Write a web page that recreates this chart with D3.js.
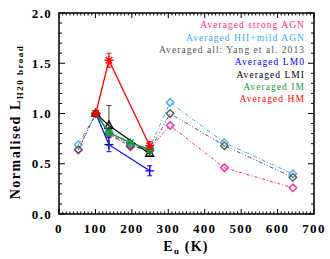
<!DOCTYPE html>
<html><head><meta charset="utf-8">
<script src="https://cdn.jsdelivr.net/npm/d3@7"></script>
<style>
html,body{margin:0;padding:0;background:#fff;}
svg{display:block;}
text{font-family:"Liberation Serif","Times New Roman",serif;}
</style></head>
<body>
<svg id="c" width="330" height="259"></svg>
<script>
// ---- data ----
const eAvg = [53, 101, 137, 196, 249, 305, 454, 642];
const strongAGN = [0.64, 1.00, 0.79, 0.67, 0.65, 0.88, 0.46, 0.26];
const hiiMild   = [0.69, 1.00, 0.82, 0.69, 0.66, 1.11, 0.71, 0.40];
const yangAll   = [0.64, 1.00, 0.80, 0.68, 0.63, 1.00, 0.68, 0.365];

const eLM0 = [101, 137, 249];
const lm0 = [1.00, 0.69, 0.43];
const lm0Err = [0, 0.07, 0.05];

const eLMI = [101, 137, 249];
const lmi = [1.00, 0.88, 0.60];
const lmiErr = [0, 0.20, 0.02];

const eIM = [101, 137, 196, 249];
const im = [1.00, 0.81, 0.71, 0.64];
const imErr = [0, 0.03, 0, 0.03];

const eHM = [101, 137, 249];
const hm = [1.00, 1.53, 0.68];
const hmErr = [0, 0.07, 0.04];

const legendLabels = ["Averaged strong AGN", "Averaged HII+mild AGN", "Averaged all: Yang et al. 2013",
  "Averaged LM0", "Averaged LMI", "Averaged IM", "Averaged HM"];
const legendColors = ["#ff1a8c", "#38aaf5", "#555555", "#0000ff", "#000000", "#1a9a3a", "#ff0000"];

const xTicks = [0, 100, 200, 300, 400, 500, 600, 700];
const yTicks = [0.0, 0.5, 1.0, 1.5, 2.0];

// ---- layout ----
const svg = d3.select("#c");
const L = 59, R = 314, T = 13, B = 214;
const x = d3.scaleLinear().domain([0, 700]).range([L, R]);
const y = d3.scaleLinear().domain([0, 2]).range([B, T]);

const g = svg.append("g");
const tickFont = "bold 13px 'Liberation Serif', serif";

d3.range(0, 701, 10).forEach(v => {
  const major = v % 100 === 0;
  const len = major ? 5 : 2.5;
  g.append("line").attr("x1", x(v)).attr("x2", x(v)).attr("y1", B).attr("y2", B - len).attr("stroke", "#000").attr("stroke-width", 1);
  g.append("line").attr("x1", x(v)).attr("x2", x(v)).attr("y1", T).attr("y2", T + len).attr("stroke", "#000").attr("stroke-width", 1);
});
d3.range(0, 2.001, 0.1).forEach(v => {
  const major = Math.abs(v * 2 - Math.round(v * 2)) < 1e-6;
  const len = major ? 6 : 3;
  g.append("line").attr("x1", L).attr("x2", L + len).attr("y1", y(v)).attr("y2", y(v)).attr("stroke", "#000").attr("stroke-width", 1);
  g.append("line").attr("x1", R).attr("x2", R - len).attr("y1", y(v)).attr("y2", y(v)).attr("stroke", "#000").attr("stroke-width", 1);
});
g.append("rect").attr("x", L).attr("y", T).attr("width", R - L).attr("height", B - T)
  .attr("fill", "none").attr("stroke", "#000").attr("stroke-width", 1.5);

xTicks.forEach(v => {
  g.append("text").attr("x", x(v)).attr("y", 233).attr("text-anchor", "middle")
    .style("font", tickFont).style("letter-spacing", "1.3px").text(v);
});
yTicks.forEach(v => {
  g.append("text").attr("x", 52).attr("y", y(v) + 4.5).attr("text-anchor", "end")
    .style("font", tickFont).style("letter-spacing", "1.3px").text(v.toFixed(1));
});

const xt = svg.append("text").attr("x", 186).attr("y", 251).attr("text-anchor", "middle")
  .style("font", "bold 14px 'Liberation Serif', serif").style("letter-spacing", "1.2px");
xt.append("tspan").text("E");
xt.append("tspan").attr("dy", 3).style("font-size", "9px").text("u");
xt.append("tspan").attr("dy", -3).text(" (K)");

const yt = svg.append("text").attr("transform", "translate(20,122) rotate(-90)").attr("text-anchor", "middle")
  .style("font", "bold 14px 'Liberation Serif', serif").style("letter-spacing", "1.5px");
yt.append("tspan").text("Normalised L");
yt.append("tspan").attr("dy", 3).style("font-size", "9px").text("H20 broad");

// ---- marks ----
const line = d3.line().x(d => x(d[0])).y(d => y(d[1]));
const plot = svg.append("g");

function diamond(px, py, r) { return `M${px},${py - r}L${px + r},${py}L${px},${py + r}L${px - r},${py}Z`; }
function star(px, py, r) {
  const a = r * 0.72;
  return `M${px - r},${py}L${px + r},${py}M${px},${py - r}L${px},${py + r}M${px - a},${py - a}L${px + a},${py + a}M${px - a},${py + a}L${px + a},${py - a}`;
}
function plus(px, py, r) { return `M${px - r},${py}L${px + r},${py}M${px},${py - r}L${px},${py + r}`; }
function tri(px, py, r) { return `M${px},${py - r}L${px + r * 0.9},${py + r * 0.6}L${px - r * 0.9},${py + r * 0.6}Z`; }

function series(es, vs, color, dash, width, markerFn, r, errs) {
  const pts = es.map((e, i) => [e, vs[i]]);
  plot.append("path").datum(pts).attr("d", line).attr("fill", "none")
    .attr("stroke", color).attr("stroke-width", width).attr("stroke-dasharray", dash || null);
  if (errs) {
    pts.forEach((p, i) => {
      if (!errs[i]) return;
      const px = x(p[0]);
      plot.append("path").attr("d", `M${px},${y(p[1] - errs[i])}L${px},${y(p[1] + errs[i])}M${px - 2.5},${y(p[1] - errs[i])}L${px + 2.5},${y(p[1] - errs[i])}M${px - 2.5},${y(p[1] + errs[i])}L${px + 2.5},${y(p[1] + errs[i])}`)
        .attr("stroke", color === "#000000" ? "#444" : color).attr("stroke-width", 1).attr("fill", "none");
    });
  }
  pts.forEach(p => {
    plot.append("path").attr("d", markerFn(x(p[0]), y(p[1]), r))
      .attr("fill", "none").attr("stroke", color).attr("stroke-width", 1.3);
  });
}

series(eAvg, strongAGN, legendColors[0], "3,2,1,2", 1, diamond, 3.8);
series(eAvg, hiiMild, legendColors[1], "4,2,1,2", 1, diamond, 3.8);
series(eAvg, yangAll, legendColors[2], "4,2,1,2,1,2", 1, diamond, 3.8);
series(eLM0, lm0, legendColors[3], null, 1.2, plus, 4.5, lm0Err);
series(eLMI, lmi, legendColors[4], null, 1.2, tri, 4.5, lmiErr);
series(eIM, im, legendColors[5], null, 1.5, star, 4.5, imErr);
series(eHM, hm, legendColors[6], null, 1.3, star, 4.5, hmErr);

// ---- legend ----
const legY = [25, 37.5, 50, 62, 74.5, 87, 99];
legendLabels.forEach((t, i) => {
  svg.append("text").attr("x", 305).attr("y", legY[i] + 3).attr("text-anchor", "end")
    .style("font-family", "'Liberation Serif', serif").style("font-size", "9.5px").style("letter-spacing", "1.05px")
    .attr("fill", legendColors[i]).text(t);
});
</script>
</body></html>
